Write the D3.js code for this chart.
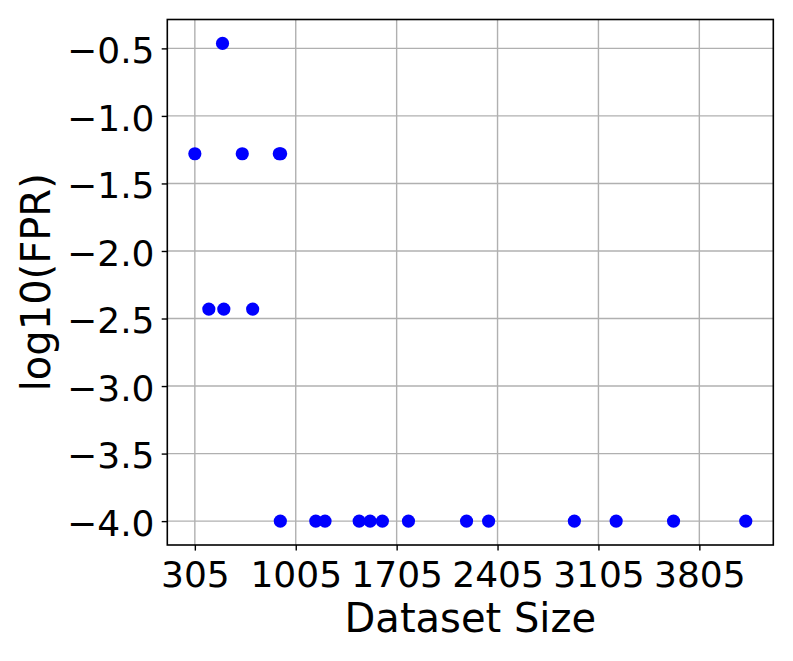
<!DOCTYPE html>
<html>
<head>
<meta charset="utf-8">
<script src="https://cdn.jsdelivr.net/npm/d3@7"></script>
<style>
  html, body { margin: 0; padding: 0; background: #ffffff; }
  svg { display: block; }
  text { font-family: "DejaVu Sans", sans-serif; fill: #000; }
</style>
</head>
<body>
<svg id="chart" width="793" height="661"></svg>
<script>
// Data
const datasetSize = [497, 305, 634, 891, 900, 402, 506, 706,
                     898, 1144, 1208, 1445, 1521, 1606, 1787, 2190, 2343, 2938, 3228, 3626, 4127];
const log10FPR    = [-0.463, -1.28, -1.28, -1.28, -1.28, -2.43, -2.43, -2.43,
                     -4, -4, -4, -4, -4, -4, -4, -4, -4, -4, -4, -4, -4];
const xTickValues = [305, 1005, 1705, 2405, 3105, 3805];
const yTickValues = [-4.0, -3.5, -3.0, -2.5, -2.0, -1.5, -1.0, -0.5];
const xLabel = "Dataset Size";
const yLabel = "log10(FPR)";

const points = datasetSize.map((x, i) => ({ x, y: log10FPR[i] }));

const svg = d3.select("#chart");
const plot = { left: 167.3, right: 773.3, top: 19.5, bottom: 545 };

function padded(ext) {
  const r = ext[1] - ext[0];
  return [ext[0] - 0.05 * r, ext[1] + 0.05 * r];
}

const x = d3.scaleLinear().domain(padded(d3.extent(datasetSize))).range([plot.left, plot.right]);
const y = d3.scaleLinear().domain(padded(d3.extent(log10FPR))).range([plot.bottom, plot.top]);

// Grid
const grid = svg.append("g");
grid.selectAll("line.vx").data(xTickValues).join("line")
  .attr("x1", d => x(d)).attr("x2", d => x(d))
  .attr("y1", plot.top).attr("y2", plot.bottom)
  .attr("stroke", "#b0b0b0").attr("stroke-width", 1.4);
grid.selectAll("line.hy").data(yTickValues).join("line")
  .attr("x1", plot.left).attr("x2", plot.right)
  .attr("y1", d => y(d)).attr("y2", d => y(d))
  .attr("stroke", "#b0b0b0").attr("stroke-width", 1.4);

// Points
svg.append("g").selectAll("circle").data(points).join("circle")
  .attr("cx", d => x(d.x)).attr("cy", d => y(d.y))
  .attr("r", 6.6).attr("fill", "#0000ff");

// Axes
const fmtY = v => d3.format(".1f")(v).replace("-", "\u2212");
const xAxis = d3.axisBottom(x).tickValues(xTickValues).tickSize(5.6).tickPadding(7).tickFormat(d3.format("d"));
const yAxis = d3.axisLeft(y).tickValues(yTickValues).tickSize(5.6).tickPadding(7).tickFormat(fmtY);

const gx = svg.append("g").attr("transform", `translate(0,${plot.bottom})`).call(xAxis);
const gy = svg.append("g").attr("transform", `translate(${plot.left},0)`).call(yAxis);
[gx, gy].forEach(g => {
  g.select(".domain").remove();
  g.selectAll(".tick line").attr("stroke", "#000").attr("stroke-width", 1.4);
  g.selectAll(".tick text").attr("font-family", "DejaVu Sans").attr("font-size", 36).attr("fill", "#000");
});
gx.selectAll(".tick text").attr("dy", null).attr("y", 41.8);
gy.selectAll(".tick text").attr("dy", null).attr("y", 14.4).attr("x", -12.8);

// Frame
svg.append("rect")
  .attr("x", plot.left).attr("y", plot.top)
  .attr("width", plot.right - plot.left).attr("height", plot.bottom - plot.top)
  .attr("fill", "none").attr("stroke", "#000").attr("stroke-width", 1.6);

// Axis labels
svg.append("text")
  .attr("x", (plot.left + plot.right) / 2).attr("y", 631.7)
  .attr("text-anchor", "middle").attr("font-size", 40)
  .text(xLabel);
svg.append("text")
  .attr("transform", `translate(50,${(plot.top + plot.bottom) / 2}) rotate(-90)`)
  .attr("text-anchor", "middle").attr("font-size", 40)
  .text(yLabel);
</script>
</body>
</html>
